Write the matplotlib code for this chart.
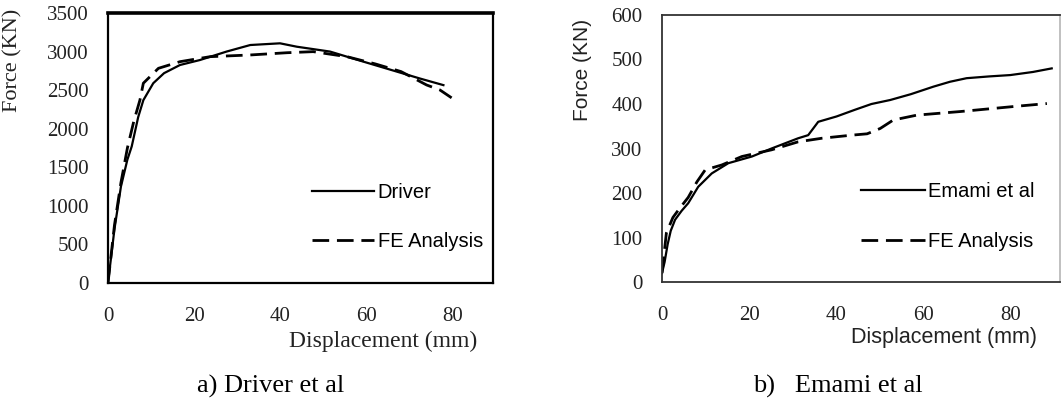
import matplotlib
matplotlib.use("Agg")
import matplotlib.pyplot as plt

# a) Driver et al
drv_x = [0, 1.5, 3, 4.5, 5.5, 7, 8.2, 10.5, 13, 16.7, 21.3, 27.5, 33, 39.9, 43.8, 51.5, 59.2, 67, 72.4, 77.8]
drv_y = [0, 700, 1250, 1600, 1770, 2150, 2370, 2590, 2720, 2826, 2890, 3000, 3085, 3107, 3063, 3000, 2870, 2740, 2650, 2565]
fe1_x = [0, 1.5, 3, 4.5, 6, 7.4, 8.2, 11.7, 16.7, 23.7, 33, 41.5, 47.6, 55.4, 62, 68, 73.9, 77, 79.7]
fe1_y = [0, 750, 1300, 1750, 2100, 2370, 2590, 2783, 2869, 2934, 2956, 2985, 2999, 2934, 2840, 2740, 2567, 2502, 2400]

# b) Emami et al
em_x = [0, 0.6, 1.3, 2, 3, 4.5, 6, 8.3, 11.4, 15.2, 20.6, 25.1, 31.2, 33.5, 35.8, 40, 44.2, 48, 52.3, 57, 62.2, 66, 69.8, 75, 79.8, 85, 89.3]
em_y = [20, 45, 85, 115, 140, 160, 177, 214, 244, 267, 282, 300, 323, 330, 360, 372, 387, 400, 409, 422, 439, 450, 458, 462, 465, 472, 480]
fe2_x = [0, 1, 2.5, 4, 6, 8, 9.9, 13.7, 18.3, 25.1, 31.2, 36.6, 43.5, 47, 50, 53, 58.4, 68.3, 75.9, 81.3, 88.2]
fe2_y = [20, 110, 145, 165, 190, 225, 252, 263, 282, 297, 315, 323, 330, 333, 345, 364, 375, 383, 390, 395, 401]

serif = "Liberation Serif"
sans = "Liberation Sans"

fig = plt.figure(figsize=(10.61, 4.01), dpi=100)
W, H = 1061, 401


def make_axes(l, t, r, b):
    return fig.add_axes([l / W, 1 - b / H, (r - l) / W, (b - t) / H])


dash = (0, (6, 2.8))

# left panel
ax1 = make_axes(108, 13, 493, 283)
ax1.plot(drv_x, drv_y, color="black", lw=1.6, label="Driver")
ax1.plot(fe1_x, fe1_y, color="black", lw=2.0, ls=dash, label="FE Analysis")
ax1.set_xlim(0, 89.3)
ax1.set_ylim(0, 3500)
ax1.set_xticks([0, 20, 40, 60, 80])
ax1.set_yticks(range(0, 3501, 500))
ax1.tick_params(length=0, labelsize=15, colors="#222222")
ax1.tick_params(axis="y", pad=14)
ax1.tick_params(axis="x", pad=17)
for lab in ax1.get_xticklabels() + ax1.get_yticklabels():
    lab.set_family(serif)
for s in ax1.spines.values():
    s.set_linewidth(1.6)
ax1.spines["top"].set_linewidth(2.6)
ax1.legend(loc="center left", bbox_to_anchor=(0.53, 0.245), frameon=False,
           prop={"family": sans, "size": 14.5}, handlelength=3.1,
           labelspacing=1.5, handletextpad=0.15, borderpad=0, borderaxespad=0)
fig.text(477 / W, 1 - 341 / H, "Displacement (mm)", family=serif, fontsize=17,
         ha="right", va="center", color="#222222")
fig.text(13 / W, 1 - 60 / H, "Force (KN)", family=serif, fontsize=16,
         rotation=90, ha="center", va="center", color="#222222")
fig.text(271 / W, 1 - 386 / H, "a) Driver et al", family=serif, fontsize=19,
         ha="center", va="center")

# right panel
ax2 = make_axes(662, 15, 1060, 282)
ax2.plot(em_x, em_y, color="black", lw=1.6, label="Emami et al")
ax2.plot(fe2_x, fe2_y, color="black", lw=2.0, ls=dash, label="FE Analysis")
ax2.set_xlim(0, 91.2)
ax2.set_ylim(0, 600)
ax2.set_xticks([0, 20, 40, 60, 80])
ax2.set_yticks(range(0, 601, 100))
ax2.tick_params(length=0, labelsize=15, colors="#222222")
ax2.tick_params(axis="y", pad=14)
ax2.tick_params(axis="x", pad=17)
for lab in ax2.get_xticklabels() + ax2.get_yticklabels():
    lab.set_family(serif)
for s in ax2.spines.values():
    s.set_linewidth(1.3)
    s.set_color("#333333")
ax2.spines["right"].set_color("#bbbbbb")
ax2.legend(loc="center left", bbox_to_anchor=(0.50, 0.245), frameon=False,
           prop={"family": sans, "size": 14.5}, handlelength=3.2,
           labelspacing=1.5, handletextpad=0.15, borderpad=0, borderaxespad=0)
fig.text(1037 / W, 1 - 338 / H, "Displacement (mm)", family=sans, fontsize=15.5,
         ha="right", va="center", color="#222222")
fig.text(583 / W, 1 - 70 / H, "Force (KN)", family=sans, fontsize=15,
         rotation=90, ha="center", va="center", color="#222222")
fig.text(838 / W, 1 - 386 / H, "b)   Emami et al", family=serif, fontsize=19,
         ha="center", va="center")

fig.savefig("out.png", dpi=100)
